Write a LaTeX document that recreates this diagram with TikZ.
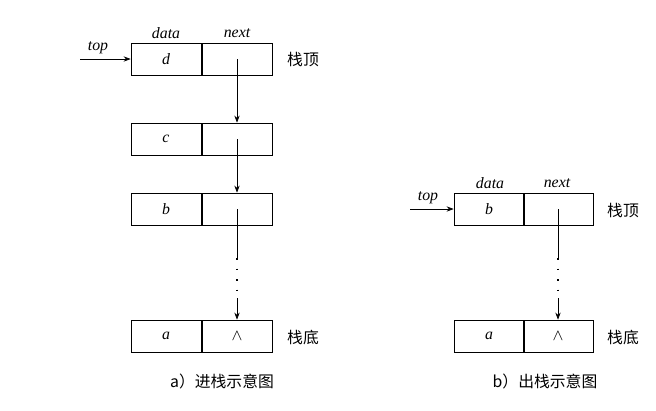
\documentclass[tikz,border=0pt]{standalone}
\usepackage{fontspec}
\setmainfont{Liberation Serif}
\newfontfamily\cjk{Noto Sans CJK SC}
\usetikzlibrary{arrows.meta}
\tikzset{cell/.style={draw,minimum width=1.4cm,minimum height=0.64cm,inner sep=0pt,font=\itshape\small},
  lnk/.style={-{Stealth[length=4pt,width=3pt]}},
  gap/.style={line width=0.9pt,dash pattern=on 1pt off 5pt},
  lab/.style={font=\itshape\small}}
\begin{document}
\begin{tikzpicture}[x=0.02cm,y=-0.02cm]
\useasboundingbox (0,0) rectangle (656,410);
% left stack
\node[cell] (d) at (166,59) {d};
\node[cell] (dn) at (237,59) {};
\node[cell] (c) at (166,139) {c};
\node[cell] (cn) at (237,139) {};
\node[cell] (b) at (166,209) {b};
\node[cell] (bn) at (237,209) {};
\node[cell] (a) at (166,336) {a};
\node[cell] (an) at (237,336) {$\wedge$};
\node[lab] (data1) at (166,33) {data};
\node[lab] (next1) at (237,33) {next};
\node[lab] (top1) at (98,48) {top};
\coordinate (t1) at (80,59);
\draw[lnk] (t1) -- (d.west);
\node[font=\cjk\small] (tp1) at (303,60) {栈顶};
\node[font=\cjk\small] (bt1) at (303,337) {栈底};
\draw[lnk] (dn.center) -- (cn.north);
\draw[lnk] (cn.center) -- (bn.north);
\coordinate (g1) at (237,258);
\coordinate (g2) at (237,298);
\draw (bn.center) -- (g1);
\draw[gap] (g1) -- (g2);
\draw[lnk] (g2) -- (an.north);
\node[font=\cjk\small] (cap1) at (222,381) {a）进栈示意图};
% right stack
\node[cell] (rb) at (489,209) {b};
\node[cell] (rbn) at (558,209) {};
\node[cell] (ra) at (489,336) {a};
\node[cell] (ran) at (558,336) {$\wedge$};
\node[lab] (data2) at (490,183) {data};
\node[lab] (next2) at (557,183) {next};
\node[lab] (top2) at (428,198) {top};
\coordinate (t2) at (410,209);
\draw[lnk] (t2) -- (rb.west);
\node[font=\cjk\small] (tp2) at (623,210) {栈顶};
\node[font=\cjk\small] (bt2) at (623,337) {栈底};
\coordinate (h1) at (558,258);
\coordinate (h2) at (558,298);
\draw (rbn.center) -- (h1);
\draw[gap] (h1) -- (h2);
\draw[lnk] (h2) -- (ran.north);
\node[font=\cjk\small] (cap2) at (545,381) {b）出栈示意图};
\end{tikzpicture}
\end{document}
